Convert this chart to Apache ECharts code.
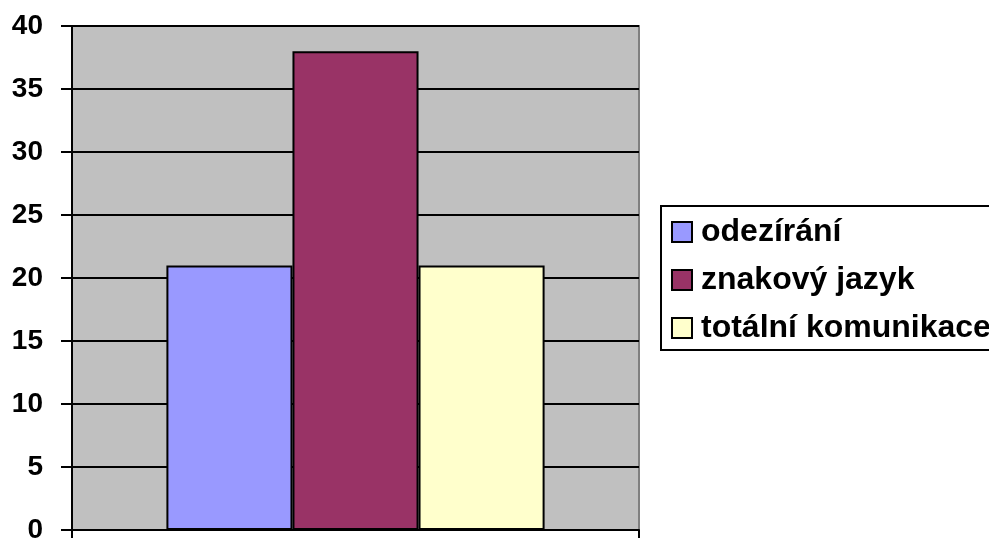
<!DOCTYPE html>
<html>
<head>
<meta charset="utf-8">
<script src="https://cdn.jsdelivr.net/npm/echarts@6/dist/echarts.min.js"></script>
<style>
html,body{margin:0;padding:0;background:#fff;}
#chart{width:989px;height:538px;}
</style>
</head>
<body>
<div id="chart"></div>
<script>
var categories = [''];
var seriesNames = ['odezírání', 'znakový jazyk', 'totální komunikace'];
var seriesValues = [[21], [38], [21]];
var seriesColors = ['#9999FF', '#993366', '#FFFFCC'];
var yTicks = {min: 0, max: 40, interval: 5};

var font = "'Liberation Sans', Arial, sans-serif";
var chart = echarts.init(document.getElementById('chart'), null, {renderer: 'canvas'});
var series = seriesNames.map(function (n, i) {
  return {
    name: n,
    type: 'bar',
    data: seriesValues[i],
    barGap: '0%',
    barCategoryGap: '33.3%',
    itemStyle: {color: seriesColors[i], borderColor: '#000', borderWidth: 2},
    emphasis: {disabled: true}
  };
});
chart.setOption({
  animation: false,
  grid: {
    left: 72, right: 350, top: 26, bottom: 8,
    containLabel: false,
    outerBoundsMode: 'none',
    show: true, backgroundColor: '#C0C0C0', borderColor: '#808080', borderWidth: 2
  },
  graphic: [{
    type: 'rect',
    silent: true,
    shape: {x: 661, y: 206, width: 400, height: 144},
    style: {fill: null, stroke: '#000', lineWidth: 2}
  }],
  legend: {
    orient: 'vertical',
    left: 661, top: 206,
    padding: [8, 10, 5, 10],
    itemWidth: 20, itemHeight: 20, itemGap: 12,
    icon: 'rect',
    selectedMode: false,
    textStyle: {fontFamily: font, fontWeight: 'bold', fontSize: 32, color: '#000', lineHeight: 36, padding: [0, 0, 0, 4]},
    data: seriesNames
  },
  xAxis: {
    type: 'category',
    data: categories,
    axisLine: {show: true, lineStyle: {color: '#000', width: 2}},
    axisTick: {show: true, length: 9, lineStyle: {color: '#000', width: 2}},
    axisLabel: {show: false},
    splitLine: {show: false}
  },
  yAxis: {
    type: 'value',
    min: yTicks.min, max: yTicks.max, interval: yTicks.interval,
    axisLine: {show: true, lineStyle: {color: '#000', width: 2}},
    axisTick: {show: true, length: 11, lineStyle: {color: '#000', width: 2}},
    axisLabel: {fontFamily: font, fontWeight: 'bold', fontSize: 28, color: '#000', margin: 29},
    splitLine: {show: true, lineStyle: {color: '#000', width: 2}}
  },
  series: series
});
</script>
</body>
</html>
